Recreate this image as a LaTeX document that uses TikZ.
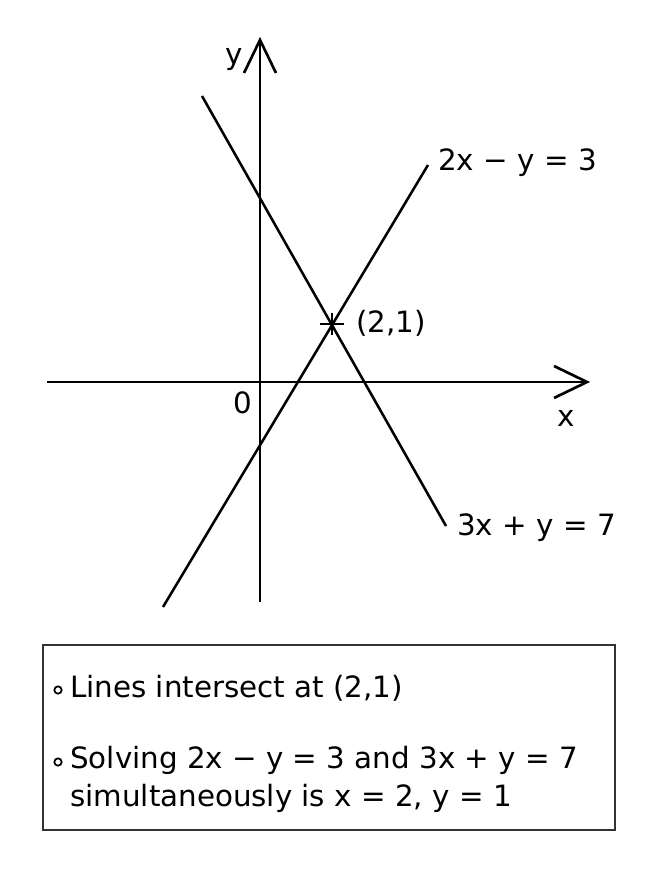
\documentclass[tikz,border=0pt]{standalone}
\usepackage{fontspec}
\setmainfont{DejaVu Sans}
\begin{document}
\begin{tikzpicture}[x=0.75pt,y=-0.75pt,line width=1.9pt,
  lbl/.style={inner sep=0pt,font=\fontsize{22}{27}\selectfont},
  ax/.style={line width=2pt},
  bul/.style={circle,draw,line width=1.3pt,inner sep=0pt,minimum size=5.5pt}]
\useasboundingbox (0,0) rectangle (656,873);
% axes
\coordinate (xL) at (47,382);
\coordinate (xR) at (587,382);
\coordinate (yB) at (260,602);
\coordinate (yT) at (260,40);
\draw[ax] (xL) -- (xR);
\draw[ax] (xR) ++(-33,-16) -- (xR) -- ++(-33,16);
\draw[ax] (yB) -- (yT);
\draw[ax] (yT) ++(-16,33) -- (yT) -- ++(16,33);
% lines
\coordinate (a1) at (163,607);
\coordinate (a2) at (428,165);
\coordinate (b1) at (202,96);
\coordinate (b2) at (446,526);
\draw (a1) -- (a2);
\draw (b1) -- (b2);
% intersection marker
\coordinate (P) at (332,324);
\draw[line width=2pt] (P) ++(-12,0) -- ++(24,0);
\draw[line width=2pt] (P) ++(0,-11) -- ++(0,22);
% labels
\node[lbl,anchor=west] (la) at (437,163) {2x − y = 3};
\node[lbl,anchor=west] (lb) at (456,528) {3x + y = 7};
\node[lbl,anchor=west] (lp) at (355,323) {(2,1)};
\node[lbl] (ly) at (234,60) {y};
\node[lbl] (lx) at (566,418) {x};
\node[lbl] (lo) at (243,403) {0};
% box
\node[draw,line width=1.4pt,draw=black!80,anchor=north west,minimum width=572*0.75pt,minimum height=185*0.75pt,inner sep=0pt] (box) at (42,644) {};
\node[bul] (b1c) at (58,690) {};
\node[bul] (b2c) at (58,762) {};
\node[lbl,anchor=west] (t1) at (69,688) {Lines intersect at (2,1)};
\node[lbl,anchor=west] (t2) at (69,760) {Solving 2x − y = 3 and 3x + y = 7};
\node[lbl,anchor=west] (t3) at (69,798) {simultaneously is x = 2, y = 1};
\end{tikzpicture}
\end{document}
